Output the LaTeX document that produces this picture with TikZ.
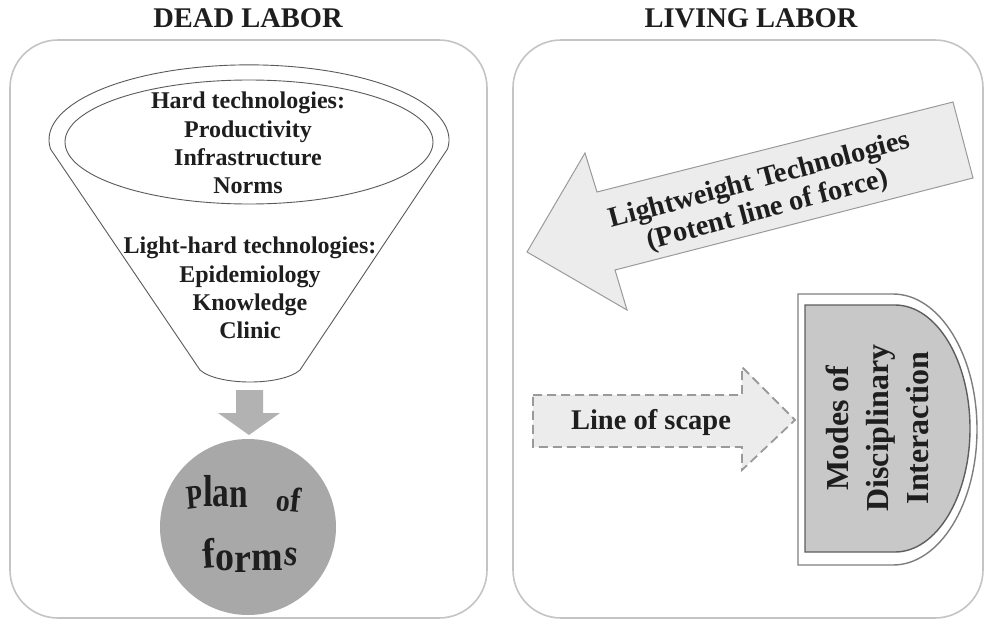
\documentclass[tikz,border=0pt]{standalone}
\usepackage{fontspec}
\setmainfont{Liberation Serif}
\definecolor{panelgray}{HTML}{C4C4C4}
\definecolor{textblack}{HTML}{1E1E1E}
\definecolor{funnelline}{HTML}{5A5A5A}
\definecolor{arrowgray}{HTML}{B2B2B2}
\definecolor{circlegray}{HTML}{A8A8A8}
\definecolor{lightfill}{HTML}{ECECEC}
\definecolor{borderline}{HTML}{9A9A9A}
\definecolor{dfill}{HTML}{C8C8C8}
\definecolor{dline}{HTML}{5E5E5E}
\newcommand{\fsz}[1]{\fontsize{#1}{#1}\selectfont}
\begin{document}
\begin{tikzpicture}[x=1pt,y=-1pt,
  panel/.style={draw=panelgray, line width=1.6pt, rounded corners=48pt},
  headtext/.style={font=\bfseries\fontsize{28.5}{32}\selectfont, text=textblack, inner sep=0},
  ftext/.style={font=\bfseries\fontsize{24}{28.3}\selectfont, align=center, text=textblack, inner sep=0},
  atext/.style={font=\bfseries\fontsize{28.5}{31}\selectfont, align=center, text=textblack, inner sep=0},
  mtext/.style={font=\bfseries\fontsize{32}{40}\selectfont, align=center, text=textblack, inner sep=0},
  funnelstroke/.style={draw=funnelline, line width=0.9pt},
  warpword/.style={anchor=base west, inner sep=0, text=textblack, font=\bfseries},
]
\useasboundingbox (0,0) rectangle (989,627);

% panels
\draw[panel] (10,40) rectangle (487,618);
\draw[panel] (513,40) rectangle (983,618);

% headings
\node[headtext] (deadlabor) at (248,18) {DEAD LABOR};
\node[headtext] (livinglabor) at (751,18) {LIVING LABOR};

% funnel
\draw[funnelstroke, fill=white] (50.5,149) arc[start angle=173, end angle=367, x radius=200, y radius=75]
  -- (300,370) .. controls (282,386) and (218,386) .. (200,370) -- cycle;
\draw[funnelstroke] (249,142) ellipse [x radius=184, y radius=62];
\node[ftext] (hard) at (248,143) {Hard technologies:\\Productivity\\Infrastructure\\Norms};
\node[ftext] (lighthard) at (250,288) {Light-hard technologies:\\Epidemiology\\Knowledge\\Clinic};

% down arrow
\fill[arrowgray] (236,390) -- (263,390) -- (263,413) -- (280,413) -- (249,435) -- (218,413) -- (236,413) -- cycle;

% circle
\node[circle, fill=circlegray, minimum size=176pt, inner sep=0] (plan) at (248,527) {};
\node[warpword] (planword) at (185,506)
  {\scalebox{0.88}[1.12]{\rotatebox{6}{\fsz{30}\raisebox{-3pt}{P}}\fsz{40}l\fsz{38}a\raisebox{-1pt}{n}}};
\node[warpword, rotate=-6] (ofword) at (275,510)
  {\scalebox{1}[1.12]{\fsz{28}o\fsz{31}f}};
\node[warpword] (formsword) at (201,568)
  {\scalebox{1}[1.1]{\fsz{38}\rotatebox{4}{f}\raisebox{-2pt}{o}\raisebox{-4pt}{r}\raisebox{-2pt}{m}\fsz{34}\rotatebox{-8}{\raisebox{3pt}{s}}}};

% big left arrow
\draw[draw=borderline, line width=1pt, fill=lightfill]
  (527,252) -- (585,153) -- (597,192) -- (953,102) -- (973,178) -- (615,270) -- (627,310) -- cycle;
\node[atext, rotate=15] (lwt) at (764,196) {Lightweight Technologies\\(Potent line of force)};

% dashed arrow
\draw[draw=borderline, line width=1.8pt, dash pattern=on 9pt off 5pt, fill=lightfill]
  (533,395) -- (742,395) -- (742,367) -- (795,420) -- (742,470) -- (742,447) -- (533,447) -- cycle;
\node[atext] (scape) at (651,422) {Line of scape};

% D shape
\draw[draw=dline!80, line width=1.4pt, fill=white]
  (798,294) -- (893,294) arc[start angle=270, end angle=450, x radius=84, y radius=135.5] -- (798,565) -- cycle;
\draw[draw=dline, line width=1.4pt, fill=dfill]
  (805,305) -- (895,305) arc[start angle=270, end angle=450, x radius=75, y radius=123.5] -- (805,552) -- cycle;
\node[mtext, rotate=90] (modes) at (877,428) {Modes of\\Disciplinary\\Interaction};
\end{tikzpicture}
\end{document}
